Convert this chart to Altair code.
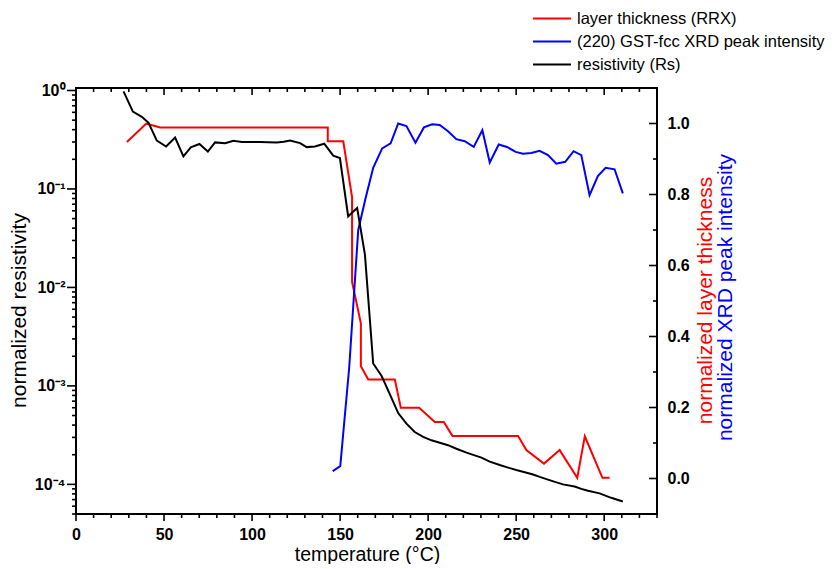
import math
import altair as alt
import pandas as pd

# ---------------- data ----------------
temp_rs = [27.0, 32.3, 37.4, 41.2, 45.9, 51.2, 56.3, 61.0, 65.2, 70.1, 74.9, 79.0,
           84.7, 89.4, 94.2, 99.0, 104.5, 109.0, 114.0, 118.0, 121.6, 127.3, 131.0,
           135.7, 141.0, 146.1, 149.9, 154.6, 159.7, 164.1, 168.8, 173.6, 178.3,
           183.0, 187.7, 192.4, 197.2, 201.9, 206.6, 211.3, 216.1, 221.8, 226.0,
           230.3, 235.0, 240.7, 245.4, 250.1, 254.9, 259.6, 263.4, 267.2, 272.0,
           276.6, 283.2, 287.0, 290.8, 297.4, 304.0, 310.6]
res_rs = [0.98, 0.61, 0.54, 0.47, 0.31, 0.27, 0.333, 0.214, 0.264, 0.286, 0.24, 0.297,
          0.292, 0.309, 0.30, 0.30, 0.30, 0.298, 0.297, 0.302, 0.31, 0.292, 0.266,
          0.27, 0.288, 0.218, 0.206, 0.0527, 0.064, 0.0216, 1.69e-3, 1.26e-3, 8.2e-4,
          5.3e-4, 4.14e-4, 3.4e-4, 3.03e-4, 2.8e-4, 2.65e-4, 2.5e-4, 2.3e-4, 2.1e-4,
          1.98e-4, 1.87e-4, 1.7e-4, 1.57e-4, 1.48e-4, 1.4e-4, 1.33e-4, 1.26e-4,
          1.19e-4, 1.13e-4, 1.06e-4, 1.0e-4, 9.5e-5, 9.0e-5, 8.6e-5, 8.1e-5, 7.3e-5,
          6.7e-5]

temp_rrx = [28.9, 39.9, 47.8, 143.0, 143.0, 151.8, 156.8, 156.8, 161.8, 161.8, 166.0,
            181.1, 184.5, 194.9, 203.8, 208.9, 213.8, 251.1, 255.8, 265.8, 274.7,
            284.7, 289.0, 299.0, 303.1]
thick_rrx = [0.948, 1.0, 0.989, 0.989, 0.950, 0.950, 0.793, 0.554, 0.437, 0.316, 0.279,
             0.279, 0.199, 0.199, 0.159, 0.159, 0.12, 0.12, 0.08, 0.042, 0.08,
             0.002, 0.119, 0.002, 0.002]

temp_xrd = [145.8, 150.1, 155.2, 160.3, 164.5, 168.8, 173.9, 178.7, 183.0, 187.7, 192.8,
            197.6, 202.3, 206.6, 211.3, 216.0, 220.8, 225.9, 230.8, 235.0, 240.1,
            244.8, 249.7, 253.9, 258.6, 263.3, 268.1, 272.8, 277.9, 282.6, 287.0,
            291.7, 296.4, 300.8, 305.9, 310.6]
int_xrd = [0.021, 0.035, 0.314, 0.70, 0.79, 0.875, 0.93, 0.944, 1.0, 0.993, 0.946,
           0.989, 0.998, 0.996, 0.978, 0.956, 0.95, 0.934, 0.981, 0.89, 0.941,
           0.934, 0.92, 0.915, 0.917, 0.923, 0.911, 0.887, 0.892, 0.922, 0.911,
           0.798, 0.852, 0.875, 0.871, 0.803]

series_names = ["layer thickness (RRX)", "(220) GST-fcc XRD peak intensity", "resistivity (Rs)"]
series_colors = ["#ff0000", "#0000ff", "#000000"]

x_major = [0, 50, 100, 150, 200, 250, 300]
x_minor = [v for v in range(0, 331, 10) if v % 50 != 0]
right_major = [0.0, 0.2, 0.4, 0.6, 0.8, 1.0]
right_minor = [0.1, 0.3, 0.5, 0.7, 0.9]
log_major = [1e-4, 1e-3, 1e-2, 1e-1, 1.0]
log_minor = [m * 10.0 ** k for k in range(-5, 1) for m in range(2, 10)
             if 5e-5 <= m * 10.0 ** k <= 1.06]
log_label = {1.0: "10⁰", 0.1: "10⁻¹", 0.01: "10⁻²", 0.001: "10⁻³", 0.0001: "10⁻⁴"}

# ---------------- layout ----------------
W, H = 581, 426
FONT = "Liberation Sans"
TW = 1.6  # tick stroke width


def frame(t, v, name):
    return pd.DataFrame({"T": t, "v": v, "i": list(range(len(t))), "s": name})


df_rs = frame(temp_rs, res_rs, series_names[2])
df_rrx = frame(temp_rrx, thick_rrx, series_names[0])
df_xrd = frame(temp_xrd, int_xrd, series_names[1])

x_scale = alt.Scale(domain=[0, 330], nice=False, zero=False)
lin_scale = alt.Scale(domain=[-0.1, 1.1], nice=False, zero=False)
log_scale = alt.Scale(type="log", domain=[5e-5, 1.06], nice=False)
px_x = alt.Scale(domain=[0, W], range=[0, W], nice=False, zero=False)  # pixel offsets
px_y = alt.Scale(domain=[0, H], range=[0, H], nice=False, zero=False)

log_label_expr = ""
for val, txt in log_label.items():
    p = round(math.log10(val))
    log_label_expr += f"abs(log(datum.value)/LN10 - ({p})) < 1e-6 ? '{txt}' : "
log_label_expr += "''"

# --- axes: labels and titles only ---
x_bottom = alt.Axis(
    orient="bottom", values=x_major, ticks=False, domain=False,
    labelFontSize=16, labelFontWeight="bold", labelPadding=12, labelFlush=False,
    labelOverlap=False, title="temperature (°C)", titleFontSize=19.5,
    titleFontWeight="normal", titleX=291, titleY=40, titleBaseline="middle",
    titleAlign="center")

left_axis = alt.Axis(
    orient="left", values=log_major, labelExpr=log_label_expr, ticks=False, domain=False,
    labelFontSize=16, labelFontWeight="bold", labelPadding=11, labelOverlap=False,
    labelFlush=False,
    title="normalized resistivity", titleFontSize=21, titleFontWeight="normal",
    titleX=-57, titleY=222, titleBaseline="middle", titleAlign="center", titleAngle=270)

right_axis = alt.Axis(
    orient="right", values=right_major, format=".1f", ticks=False, domain=False,
    labelPadding=10, labelFontSize=16, labelFontWeight="bold", labelOverlap=False,
    labelFlush=False,
    title="normalized layer thickness", titleColor="#ff0000", titleFontSize=21,
    titleFontWeight="normal", titleX=48, titleY=212, titleBaseline="middle",
    titleAlign="center", titleAngle=270)

right_title2 = alt.Axis(
    orient="right", values=[], ticks=False, labels=False, domain=False,
    title="normalized XRD peak intensity", titleColor="#0000ff", titleFontSize=21,
    titleFontWeight="normal", titleX=68, titleY=209, titleBaseline="middle",
    titleAlign="center", titleAngle=270)

legend = alt.Legend(
    title=None, orient="none", legendX=467, legendY=-78.5, direction="vertical",
    symbolType="M-2.5,0H2.5", symbolSize=231, symbolStrokeWidth=2,
    symbolFillColor="transparent",
    labelFont=FONT, labelFontSize=16.5, labelOffset=16, labelLimit=0, rowPadding=5,
    padding=0, labelColor="black")

color = alt.Color("s:N", scale=alt.Scale(domain=series_names, range=series_colors),
                  legend=legend)

red = alt.Chart(df_rrx).mark_line(strokeWidth=2).encode(
    x=alt.X("T:Q", scale=x_scale, axis=None),
    y=alt.Y("v:Q", scale=lin_scale, axis=right_axis),
    color=color, order=alt.Order("i:Q"))

blue = alt.Chart(df_xrd).mark_line(strokeWidth=2).encode(
    x=alt.X("T:Q", scale=x_scale, axis=None),
    y=alt.Y("v:Q", scale=lin_scale, axis=right_title2),
    color=color, order=alt.Order("i:Q"))

black = alt.Chart(df_rs).mark_line(strokeWidth=2).encode(
    x=alt.X("T:Q", scale=x_scale, axis=x_bottom),
    y=alt.Y("v:Q", scale=log_scale, axis=left_axis),
    color=color, order=alt.Order("i:Q"))


# --- tick marks drawn as short two-point line segments ---
def x_tick_rows(vals, base, length):
    rows = []
    for n, v in enumerate(vals):
        rows.append({"t": v, "p": base, "k": f"{base}_{length}_{n}", "o": 0})
        rows.append({"t": v, "p": base + length, "k": f"{base}_{length}_{n}", "o": 1})
    return rows


def y_tick_rows(vals, base, length):
    rows = []
    for n, v in enumerate(vals):
        rows.append({"t": v, "p": base, "k": f"{base}_{length}_{n}", "o": 0})
        rows.append({"t": v, "p": base - length, "k": f"{base}_{length}_{n}", "o": 1})
    return rows


xt = (x_tick_rows(x_major, H, 7) + x_tick_rows(x_minor, H, 4)      # bottom, outward
      + x_tick_rows(x_major, 0, 7) + x_tick_rows(x_minor, 0, 4))   # top, inward
yl = y_tick_rows(log_major, 0, 9) + y_tick_rows(log_minor, 0, 4)   # left, outward
yr = y_tick_rows(right_major, W, 8) + y_tick_rows(right_minor, W, 4)  # right, inward

x_tick_layer = alt.Chart(pd.DataFrame(xt)).mark_line(strokeWidth=TW).encode(
    x=alt.X("t:Q", scale=x_scale, axis=None),
    y=alt.Y("p:Q", scale=px_y, axis=None),
    detail="k:N", order=alt.Order("o:Q"), color=alt.value("#000000"))

left_tick_layer = alt.Chart(pd.DataFrame(yl)).mark_line(strokeWidth=TW).encode(
    x=alt.X("p:Q", scale=px_x, axis=None),
    y=alt.Y("t:Q", scale=log_scale, axis=None),
    detail="k:N", order=alt.Order("o:Q"), color=alt.value("#000000"))

right_tick_layer = alt.Chart(pd.DataFrame(yr)).mark_line(strokeWidth=TW).encode(
    x=alt.X("p:Q", scale=px_x, axis=None),
    y=alt.Y("t:Q", scale=lin_scale, axis=None),
    detail="k:N", order=alt.Order("o:Q"), color=alt.value("#000000"))

chart = (
    alt.layer(red, blue, black, x_tick_layer, left_tick_layer, right_tick_layer)
    .resolve_scale(y="independent", x="independent", color="shared")
    .resolve_axis(x="independent", y="independent")
    .properties(width=W, height=H,
                padding={"left": 68, "top": 80, "right": 170, "bottom": 50},
                autosize=alt.AutoSizeParams(type="none"))
    .configure_view(stroke="black", strokeWidth=2)
    .configure_axis(grid=False, labelFont=FONT, titleFont=FONT, labelColor="black",
                    titleColor="black", domainColor="black")
)

chart.save("out.html", embed_options={"renderer": "svg", "actions": False})
